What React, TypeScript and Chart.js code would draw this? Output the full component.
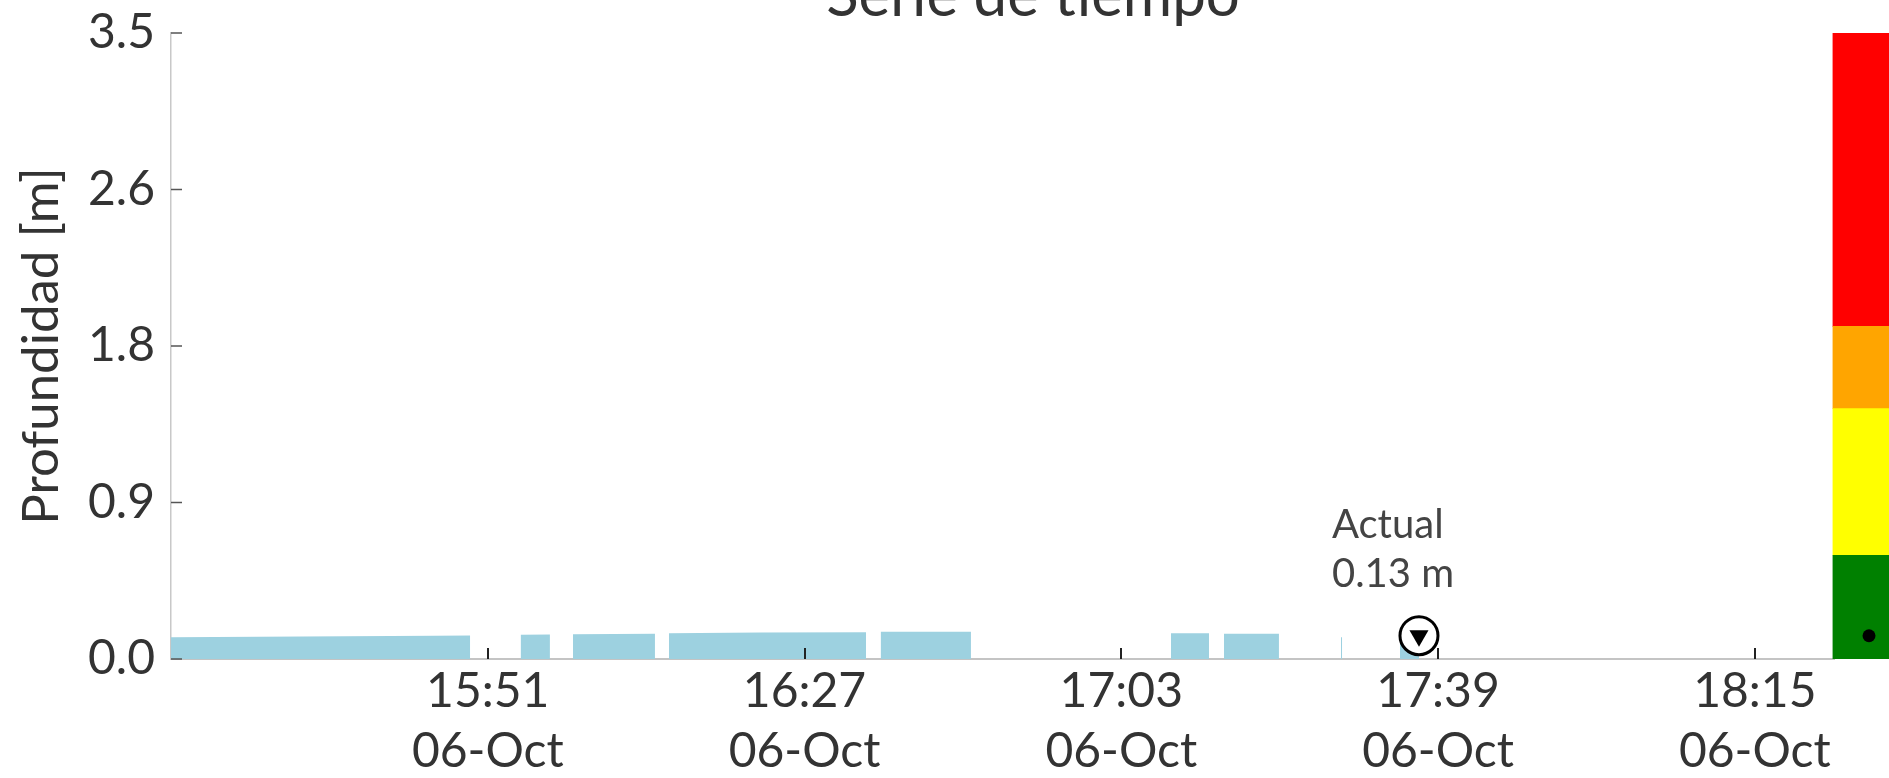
import React, { useEffect, useRef } from "react";
import { Chart, registerables } from "chart.js";

Chart.register(...registerables);

// ---------------- data ----------------
const chartTitle = "Serie de tiempo";
const yAxisTitle = "Profundidad [m]";
const dayLabel = "06-Oct";
const currentLabel = "Actual";
const unitLabel = "m";

// sample times (HH:MM:SS); a null depth marks a gap in the record
const sampleTimes = [
  "15:15:00", "15:30:00", "15:45:00", "15:49:00",
  "15:52:00",
  "15:54:44", "15:58:04",
  "15:59:30",
  "16:00:41", "16:10:00",
  "16:10:50",
  "16:11:36", "16:22:00", "16:34:00",
  "16:34:50",
  "16:35:39", "16:45:55",
  "16:55:00",
  "17:08:39", "17:12:58",
  "17:13:50",
  "17:14:40", "17:20:55",
  "17:24:00",
  "17:27:58", "17:28:06",
  "17:31:00",
  "17:34:40", "17:36:50",
];
const depthValues = [
  0.122, 0.126, 0.13, 0.131,
  null,
  0.136, 0.137,
  null,
  0.139, 0.141,
  null,
  0.144, 0.148, 0.15,
  null,
  0.152, 0.153,
  null,
  0.144, 0.144,
  null,
  0.141, 0.141,
  null,
  0.122, 0.122,
  null,
  0.13, 0.13,
];

const xRange = ["15:15", "18:24"];
const xTickTimes = ["15:51", "16:27", "17:03", "17:39", "18:15"];

const yRange = [0, 3.5];
const yTickValues = [0, 0.875, 1.75, 2.625, 3.5];
const yTickLabels = ["0.0", "0.9", "1.8", "2.6", "3.5"];

// alert levels (colour bar at the right)
const levelBounds = [0, 0.58, 1.4, 1.86, 3.5];
const levelColors = ["#008000", "#FFFF00", "#FFA500", "#FF0000"];
const levelNames = ["Normal", "Precaución", "Alerta", "Peligro"];

// ---------------- styles ----------------
const FONT = "Lato";
const TEXT = "#333333";
const FILL = "#9DD1E0";

const toMinutes = (s: string) => {
  const [h, m, sec] = s.split(":");
  return Number(h) * 60 + Number(m) + (sec ? Number(sec) / 60 : 0);
};

const lastIndex = depthValues.length - 1;
const currentPoint = {
  x: toMinutes(sampleTimes[lastIndex]),
  y: depthValues[lastIndex] as number,
};

const innerTicks = {
  id: "innerTicks",
  afterDraw(chart: any) {
    const { ctx, chartArea, scales } = chart;
    ctx.save();
    const xs = scales.x;
    ctx.strokeStyle = "#222";
    ctx.lineWidth = 2;
    xs.ticks.forEach((_: any, i: number) => {
      const px = Math.round(xs.getPixelForTick(i));
      ctx.beginPath();
      ctx.moveTo(px, chartArea.bottom);
      ctx.lineTo(px, chartArea.bottom - 11);
      ctx.stroke();
    });
    const ys = scales.y;
    ctx.strokeStyle = "#555";
    ctx.lineWidth = 1.5;
    ys.ticks.forEach((_: any, i: number) => {
      const py = ys.getPixelForTick(i);
      ctx.beginPath();
      ctx.moveTo(chartArea.left, py);
      ctx.lineTo(chartArea.left + 11, py);
      ctx.stroke();
    });
    ctx.restore();
  },
};

const currentNote = {
  id: "currentNote",
  afterDatasetsDraw(chart: any) {
    const pt = chart.getDatasetMeta(1).data[0];
    if (!pt) return;
    const { ctx } = chart;
    ctx.save();
    ctx.font = `40px ${FONT}`;
    ctx.fillStyle = "#444";
    ctx.textAlign = "left";
    ctx.textBaseline = "alphabetic";
    ctx.fillText(currentLabel, pt.x - 87, pt.y - 98);
    ctx.fillText(`${currentPoint.y.toFixed(2)} ${unitLabel}`, pt.x - 87, pt.y - 49);
    ctx.restore();
  },
};

function mainConfig(): any {
  const points = sampleTimes.map((t, i) => ({ x: toMinutes(t), y: depthValues[i] }));
  return {
    type: "line",
    data: {
      datasets: [
        {
          data: points,
          fill: "origin",
          backgroundColor: FILL,
          borderColor: "rgba(0,0,0,0)",
          borderWidth: 0,
          pointRadius: 0,
          spanGaps: false,
          tension: 0,
          order: 3,
        },
        {
          data: [currentPoint],
          showLine: false,
          pointStyle: "circle",
          pointRadius: 19,
          pointBackgroundColor: "#ffffff",
          pointBorderColor: "#000000",
          pointBorderWidth: 3,
          clip: false,
          order: 2,
        },
        {
          data: [currentPoint],
          showLine: false,
          pointStyle: "triangle",
          pointRotation: 180,
          pointRadius: 11,
          pointBackgroundColor: "#000000",
          pointBorderColor: "#000000",
          pointBorderWidth: 0,
          clip: false,
          order: 1,
        },
      ],
    },
    options: {
      animation: false,
      responsive: false,
      events: [],
      layout: { padding: { top: 1, right: 0, left: 0, bottom: 0 } },
      plugins: {
        legend: { display: false },
        tooltip: { enabled: false },
        title: {
          display: true,
          text: chartTitle,
          font: { family: FONT, size: 60, weight: "normal" },
          color: TEXT,
          padding: 0,
        },
      },
      scales: {
        x: {
          type: "linear",
          min: toMinutes(xRange[0]),
          max: toMinutes(xRange[1]),
          grid: { display: false, drawTicks: false },
          border: { display: true, color: "#c4c4c4", width: 2 },
          afterBuildTicks: (s: any) => {
            s.ticks = xTickTimes.map((t) => ({ value: toMinutes(t) }));
          },
          afterFit: (s: any) => {
            s.height = 119;
          },
          ticks: {
            autoSkip: false,
            maxRotation: 0,
            minRotation: 0,
            padding: 3,
            color: TEXT,
            font: { family: FONT, size: 48, lineHeight: 1.25 },
            callback: (_v: any, i: number) => [xTickTimes[i], dayLabel],
          },
        },
        y: {
          min: yRange[0],
          max: yRange[1],
          grid: { display: false, drawTicks: false },
          border: { display: true, color: "#c8c8c8", width: 1.5 },
          afterBuildTicks: (s: any) => {
            s.ticks = yTickValues.map((v) => ({ value: v }));
          },
          afterFit: (s: any) => {
            s.width = 171;
          },
          ticks: {
            padding: 16,
            color: TEXT,
            font: { family: FONT, size: 48 },
            callback: (_v: any, i: number) => yTickLabels[i],
          },
          title: {
            display: true,
            text: yAxisTitle,
            color: TEXT,
            font: { family: FONT, size: 51, lineHeight: 1.2 },
            padding: { top: 11, bottom: 0 },
          },
        },
        // empty right-hand axis reserving the space of the level bar
        yLevels: {
          position: "right",
          min: yRange[0],
          max: yRange[1],
          grid: { display: false, drawTicks: false },
          border: { display: false },
          ticks: { display: false },
          afterFit: (s: any) => {
            s.width = 232;
          },
        },
      },
    },
    plugins: [innerTicks, currentNote],
  };
}

function sideConfig(): any {
  const levelDatasets = levelColors.map((c, i) => ({
    type: "bar",
    label: levelNames[i],
    data: [levelBounds[i + 1] - levelBounds[i]],
    backgroundColor: c,
    borderWidth: 0,
    barPercentage: 1,
    categoryPercentage: 1,
    stack: "levels",
    order: 2,
  }));
  return {
    type: "bar",
    data: {
      labels: ["nivel"],
      datasets: [
        ...levelDatasets,
        {
          type: "line",
          data: [currentPoint.y],
          showLine: false,
          pointRadius: 6.5,
          pointBackgroundColor: "#000",
          pointBorderWidth: 0,
          stack: "current",
          order: 1,
        },
      ],
    },
    options: {
      animation: false,
      responsive: false,
      events: [],
      layout: { padding: { top: 33, bottom: 119, left: 0, right: 0 } },
      plugins: { legend: { display: false }, tooltip: { enabled: false } },
      scales: {
        x: { display: false, stacked: true },
        y: { display: false, stacked: true, min: yRange[0], max: yRange[1] },
      },
    },
  };
}

export default function App() {
  const mainRef = useRef<HTMLCanvasElement>(null);
  const sideRef = useRef<HTMLCanvasElement>(null);

  useEffect(() => {
    let main: Chart | null = null;
    let side: Chart | null = null;
    let cancelled = false;
    const build = () => {
      if (cancelled || !mainRef.current || !sideRef.current) return;
      main = new Chart(mainRef.current, mainConfig());
      side = new Chart(sideRef.current, sideConfig());
    };
    const fonts: any = (document as any).fonts;
    if (fonts && fonts.load) {
      Promise.all([fonts.load(`48px ${FONT}`), fonts.load(`60px ${FONT}`)]).then(build, build);
    } else {
      build();
    }
    return () => {
      cancelled = true;
      if (main) main.destroy();
      if (side) side.destroy();
    };
  }, []);

  return (
    <div
      style={{
        position: "fixed",
        left: 0,
        top: 0,
        width: "100vw",
        height: "100vh",
        overflow: "hidden",
        background: "#ffffff",
      }}
    >
      <canvas
        ref={mainRef}
        width={2066}
        height={818}
        style={{ position: "absolute", left: 0, top: -40, width: 2066, height: 818 }}
      />
      <canvas
        ref={sideRef}
        width={86}
        height={778}
        style={{ position: "absolute", left: 1826, top: 0, width: 86, height: 778 }}
      />
    </div>
  );
}
